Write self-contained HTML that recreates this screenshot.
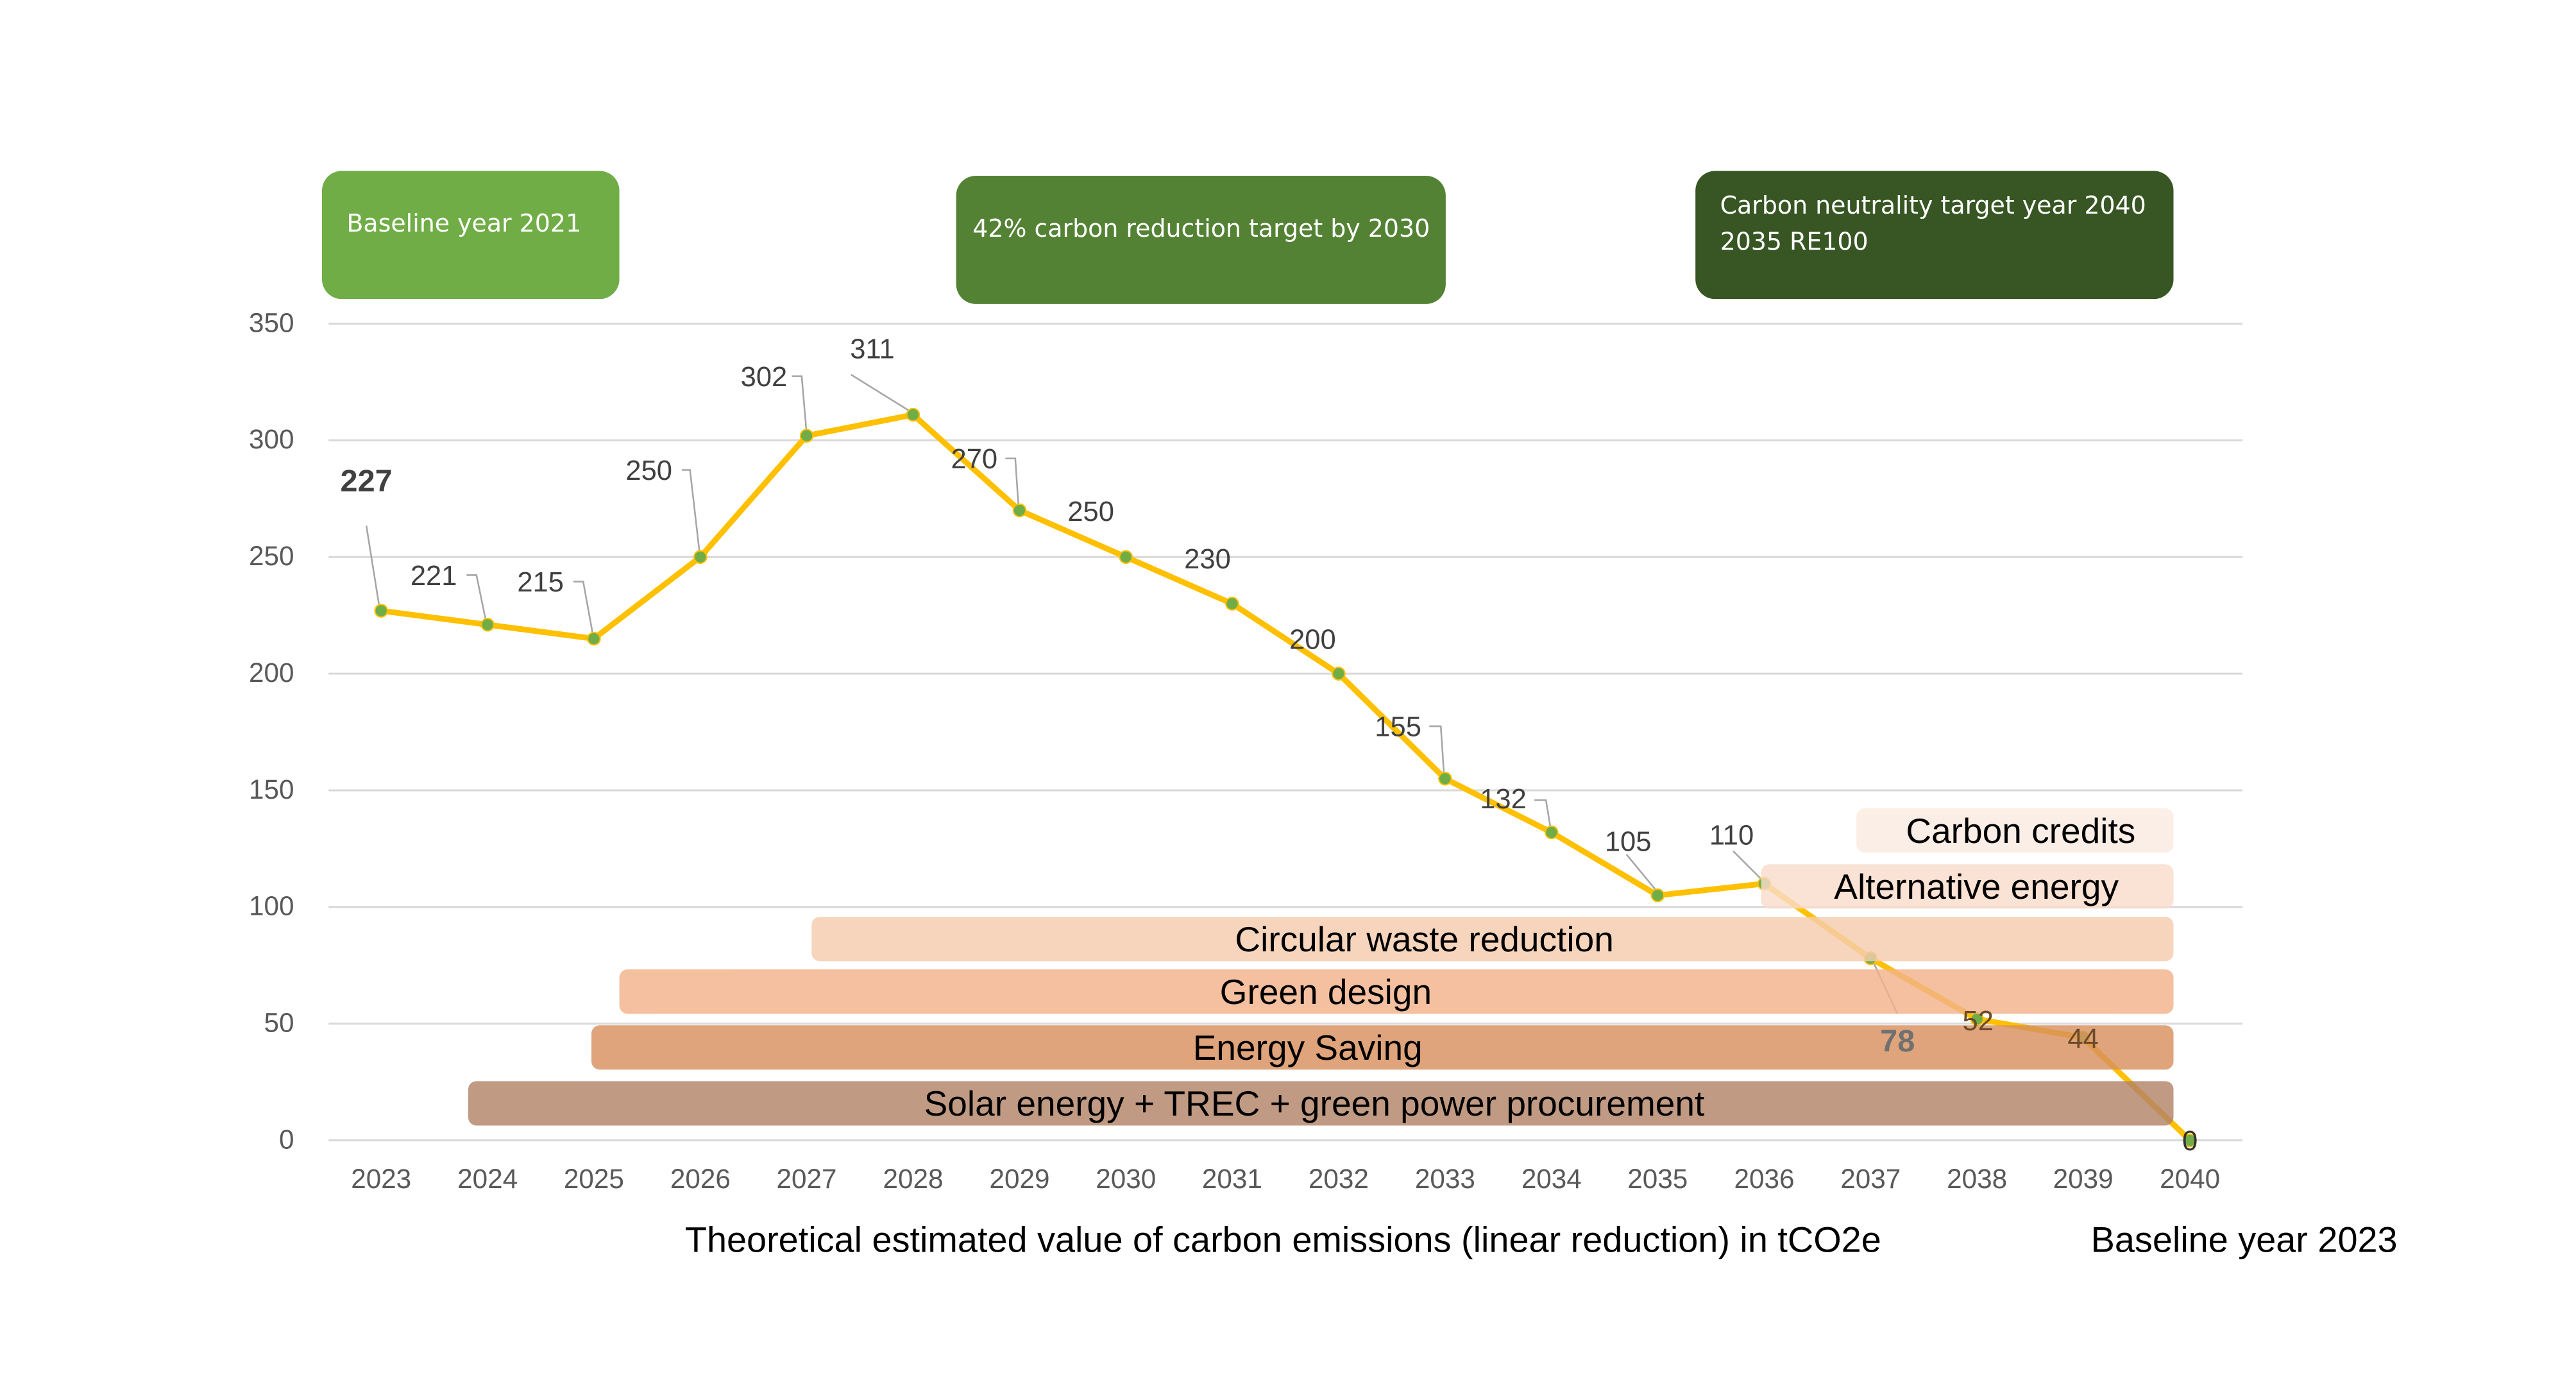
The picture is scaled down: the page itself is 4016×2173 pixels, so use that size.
<!DOCTYPE html>
<html><head><meta charset="utf-8"><style>html,body{margin:0;padding:0;background:#fff}svg{display:block}</style></head>
<body>
<svg width="4016" height="2173" viewBox="0 0 1568 848.4" preserveAspectRatio="none" xmlns="http://www.w3.org/2000/svg" font-family="Liberation Sans, sans-serif">
<rect width="1568" height="848.4" fill="#fff"/>
<g stroke="#d9d9d9" stroke-width="1.2">
<line x1="200" x2="1365" y1="197" y2="197"/><line x1="200" x2="1365" y1="268" y2="268"/>
<line x1="200" x2="1365" y1="339" y2="339"/><line x1="200" x2="1365" y1="410" y2="410"/>
<line x1="200" x2="1365" y1="481" y2="481"/><line x1="200" x2="1365" y1="552" y2="552"/>
<line x1="200" x2="1365" y1="623" y2="623"/><line x1="200" x2="1365" y1="694" y2="694"/>
</g>
<g font-size="16.5" fill="#595959" text-anchor="end">
<text x="179" y="202">350</text><text x="179" y="273">300</text><text x="179" y="344">250</text>
<text x="179" y="415">200</text><text x="179" y="486">150</text><text x="179" y="557">100</text>
<text x="179" y="628">50</text><text x="179" y="699">0</text>
</g>
<g font-size="16.5" fill="#595959" text-anchor="middle">
<text x="232" y="723">2023</text><text x="296.8" y="723">2024</text><text x="361.5" y="723">2025</text><text x="426.3" y="723">2026</text><text x="491" y="723">2027</text><text x="555.8" y="723">2028</text><text x="620.6" y="723">2029</text><text x="685.3" y="723">2030</text><text x="750" y="723">2031</text><text x="814.8" y="723">2032</text><text x="879.6" y="723">2033</text><text x="944.4" y="723">2034</text><text x="1009" y="723">2035</text><text x="1073.9" y="723">2036</text><text x="1138.6" y="723">2037</text><text x="1203.4" y="723">2038</text><text x="1268" y="723">2039</text><text x="1333" y="723">2040</text>
</g>
<g stroke="#a6a6a6" stroke-width="1" fill="none">
<polyline points="223,320 231,370"/><polyline points="284,350 290,350 296,379"/><polyline points="349,354 355,354 361,387"/>
<polyline points="415,286 420,286 426,338"/><polyline points="482,229 488,229 491,264"/><polyline points="518,228 555,251"/>
<polyline points="612,279 618,279 620,309"/><polyline points="870,442 877,442 879,472"/><polyline points="934,487 941,487 944,505"/>
<polyline points="990,520 1009,543"/><polyline points="1055,518 1073,536"/><polyline points="1140,585 1155,617"/>
</g>
<polyline fill="none" stroke="#ffc000" stroke-width="3.5" stroke-linejoin="round" points="232,371.7 296.8,380.2 361.5,388.7 426.3,339 491,265.2 555.8,252.4 620.6,310.6 685.3,339 750,367.4 814.8,410 879.6,473.9 944.4,506.6 1009,544.9 1073.9,537.8 1138.6,583.2 1203.4,620.2 1268,631.5 1333,694"/>
<g fill="#70ad47" stroke="#ffc000" stroke-width="0.8">
<circle cx="232" cy="371.7" r="3.8"/><circle cx="296.8" cy="380.2" r="3.8"/><circle cx="361.5" cy="388.7" r="3.8"/><circle cx="426.3" cy="339" r="3.8"/><circle cx="491" cy="265.2" r="3.8"/><circle cx="555.8" cy="252.4" r="3.8"/><circle cx="620.6" cy="310.6" r="3.8"/><circle cx="685.3" cy="339" r="3.8"/><circle cx="750" cy="367.4" r="3.8"/><circle cx="814.8" cy="410" r="3.8"/><circle cx="879.6" cy="473.9" r="3.8"/><circle cx="944.4" cy="506.6" r="3.8"/><circle cx="1009" cy="544.9" r="3.8"/><circle cx="1073.9" cy="537.8" r="3.8"/><circle cx="1138.6" cy="583.2" r="3.8"/><circle cx="1203.4" cy="620.2" r="3.8"/><circle cx="1268" cy="631.5" r="3.8"/><circle cx="1333" cy="694" r="3.8"/>
</g>
<g opacity="0.82">
<rect x="1130" y="492" width="193" height="27" rx="5" fill="#fbebe1"/>
<rect x="1072" y="526" width="251" height="27" rx="5" fill="#f9dccb"/>
<rect x="494" y="558" width="829" height="27" rx="5" fill="#f6cdaf"/>
<rect x="377" y="590" width="946" height="27" rx="5" fill="#f2b38a"/>
<rect x="360" y="624" width="963" height="27" rx="5" fill="#d9915f"/>
<rect x="285" y="658" width="1038" height="27" rx="5" fill="#b38468"/>
</g>
<g font-size="21.5" fill="#000" text-anchor="middle">
<text x="1230" y="513">Carbon credits</text>
<text x="1203" y="547">Alternative energy</text>
<text x="867" y="579">Circular waste reduction</text>
<text x="807" y="611">Green design</text>
<text x="796" y="645">Energy Saving</text>
<text x="800" y="679">Solar energy + TREC + green power procurement</text>
</g>
<g font-size="17" fill="#404040" text-anchor="middle">
<text x="223" y="299" font-size="19" font-weight="bold">227</text>
<text x="264" y="356">221</text><text x="329" y="360">215</text><text x="395" y="292">250</text>
<text x="465" y="235">302</text><text x="531" y="218">311</text><text x="593" y="285">270</text>
<text x="664" y="317">250</text><text x="735" y="346">230</text><text x="799" y="395">200</text>
<text x="851" y="448">155</text><text x="915" y="492">132</text><text x="991" y="518">105</text>
<text x="1054" y="514">110</text>
<text x="1155" y="640" font-size="19" font-weight="bold" fill="#707070">78</text>
<text x="1204" y="627" fill="#6b4a2a">52</text><text x="1268" y="638" fill="#6b4a2a">44</text>
<text x="1333" y="700" fill="#333">0</text>
</g>
<rect x="196" y="104" width="181" height="78" rx="12" fill="#70ad47"/>
<rect x="582" y="107" width="298" height="78" rx="12" fill="#548235"/>
<rect x="1032" y="104" width="291" height="78" rx="12" fill="#375623"/>
<g font-family="DejaVu Sans, Liberation Sans, sans-serif" font-size="14.8" fill="#fff">
<text x="211" y="141">Baseline year 2021</text>
<text x="592" y="144">42% carbon reduction target by 2030</text>
<text x="1047" y="130">Carbon neutrality target year 2040</text>
<text x="1047" y="152">2035 RE100</text>
</g>
<text x="781" y="762" font-size="21.8" text-anchor="middle" fill="#000">Theoretical estimated value of carbon emissions (linear reduction) in tCO2e</text>
<text x="1366" y="762" font-size="21.8" text-anchor="middle" fill="#000">Baseline year 2023</text>
</svg>
</body></html>
